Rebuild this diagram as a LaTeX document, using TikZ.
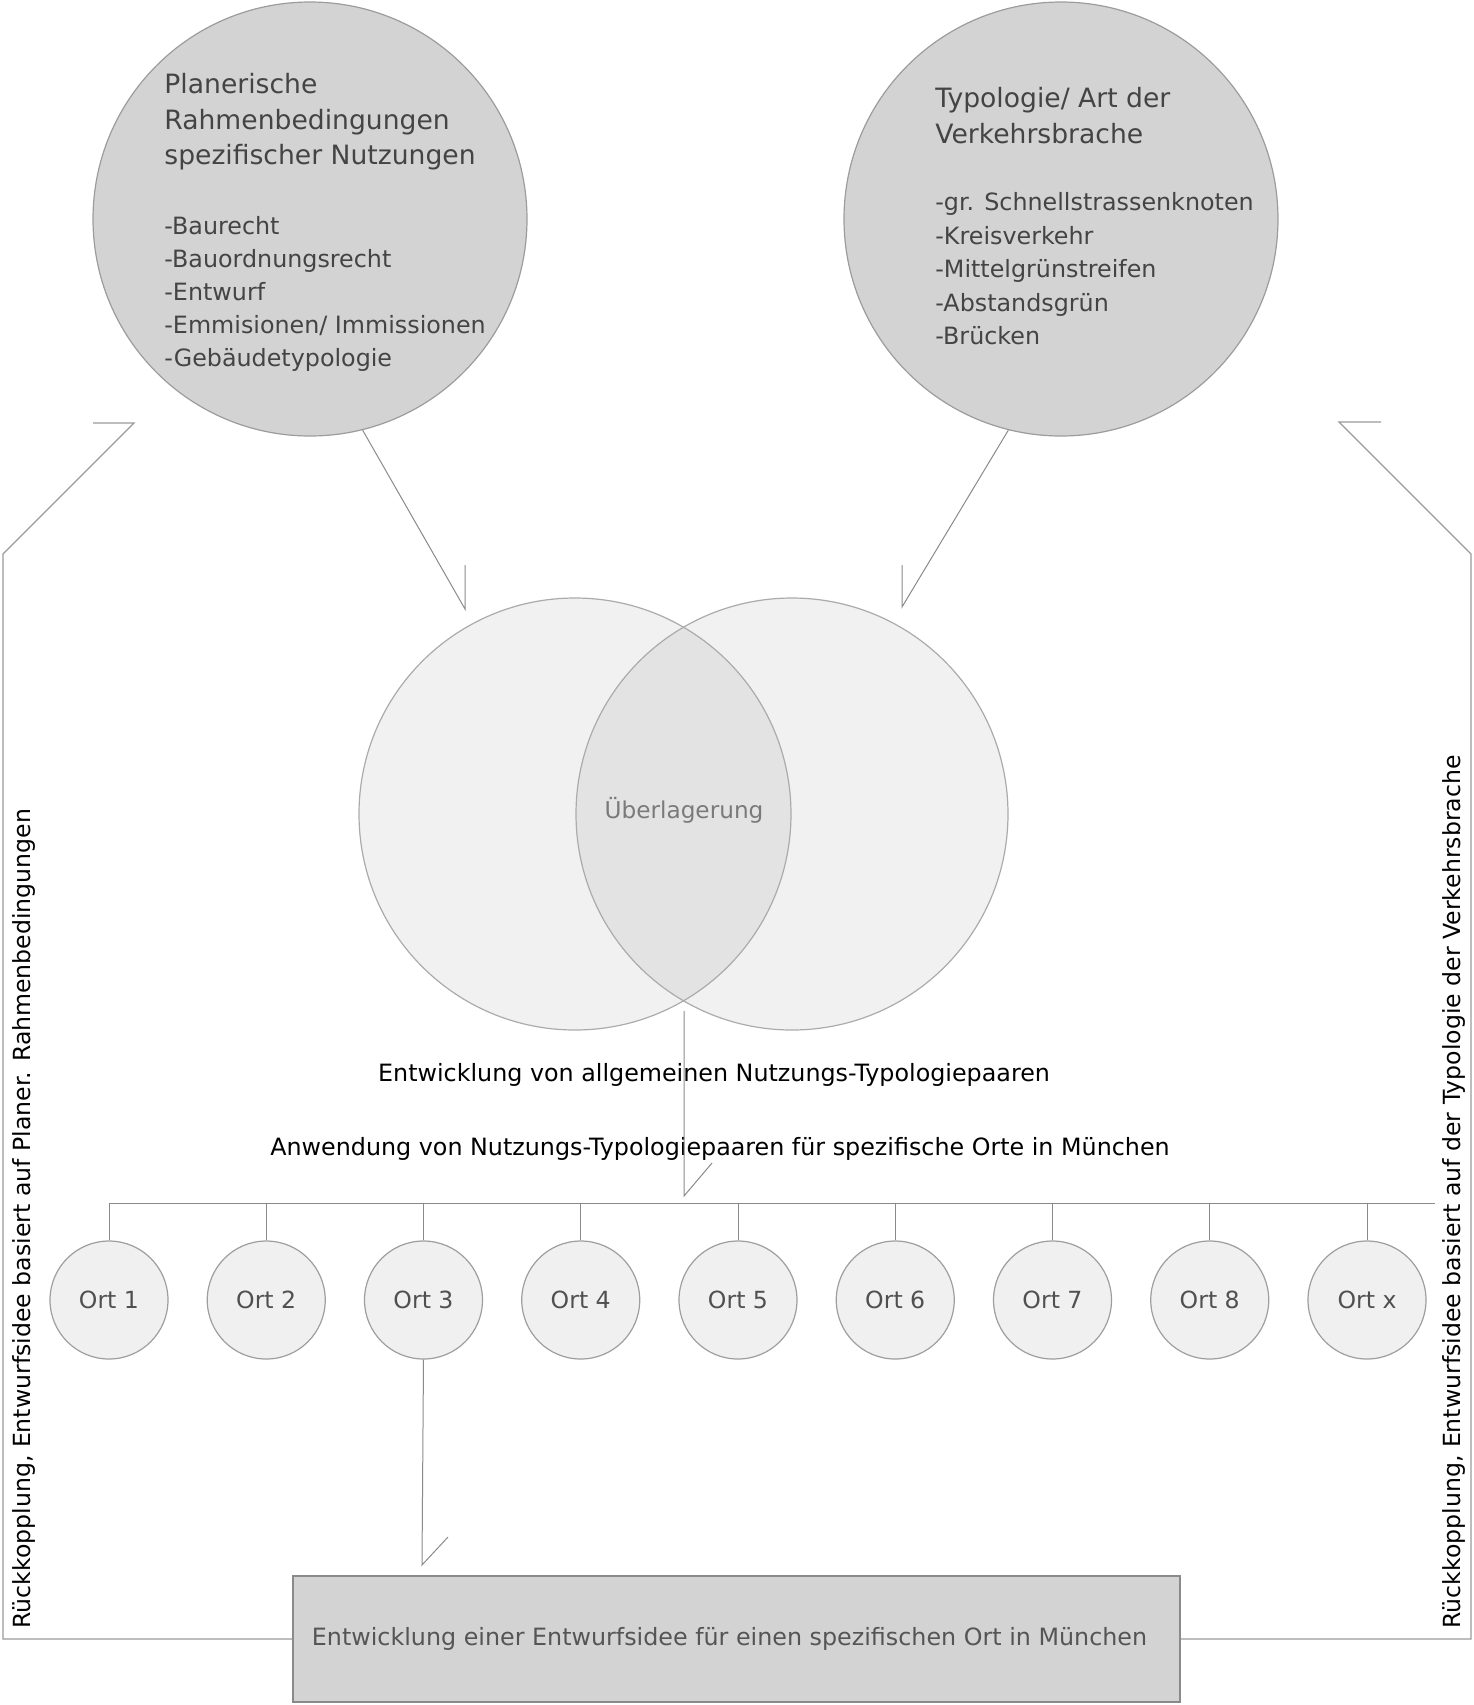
\documentclass[tikz,border=0pt]{standalone}
\usepackage{fontspec}
\setmainfont{DejaVu Sans}
\newfontfamily\rotfont{DejaVu Sans}
\definecolor{bigfill}{HTML}{D3D3D3}
\definecolor{bigline}{HTML}{9C9C9C}
\definecolor{vennfill}{HTML}{F1F1F1}
\definecolor{overlapfill}{HTML}{E3E3E3}
\definecolor{vennline}{HTML}{ABABAB}
\definecolor{ortfill}{HTML}{F0F0F0}
\definecolor{ortline}{HTML}{9E9E9E}
\definecolor{circtext}{HTML}{444444}
\definecolor{orttext}{HTML}{505050}
\definecolor{boxfill}{HTML}{D3D3D3}
\definecolor{boxline}{HTML}{8A8A8A}
\definecolor{boxtext}{HTML}{555555}
\definecolor{connline}{HTML}{8A8A8A}
\definecolor{fbline}{HTML}{9A9A9A}
\definecolor{ubertext}{HTML}{7A7A7A}
\begin{document}
\begin{tikzpicture}[x=0.5pt,y=-0.5pt,
  bigcirc/.style={circle, fill=bigfill, draw=bigline, line width=0.6pt, minimum size=217pt, inner sep=0pt},
  venncirc/.style={circle, fill=vennfill, minimum size=216pt, inner sep=0pt},
  ortcirc/.style={circle, fill=ortfill, draw=ortline, line width=0.6pt, minimum size=59pt, inner sep=0pt, text=orttext, font=\fontsize{11.8pt}{14pt}\selectfont},
  conn/.style={draw=connline, line width=0.5pt},
  fb/.style={draw=fbline, line width=0.6pt},
  head/.style={anchor=base west, inner sep=0pt, text=circtext, font=\fontsize{13.3pt}{16pt}\selectfont},
  item/.style={anchor=base west, inner sep=0pt, text=circtext, font=\fontsize{11.9pt}{14pt}\selectfont},
  midtext/.style={anchor=base, inner sep=0pt, font=\fontsize{11.9pt}{14pt}\selectfont},
  sidetext/.style={rotate=90, anchor=base west, inner sep=0pt, font=\rotfont\fontsize{11.8pt}{14pt}\selectfont},
  ideabox/.style={rectangle, fill=boxfill, draw=boxline, line width=0.6pt, minimum width=443.5pt, minimum height=63pt, inner sep=0pt, text=boxtext, font=\fontsize{11.9pt}{14pt}\selectfont}
]
\useasboundingbox (0,0) rectangle (1474,1705);

% top circles
\node[bigcirc] (c1) at (310,219) {};
\node[bigcirc] (c2) at (1061,219) {};

\node[head] (h1) at (164,93) {Planerische};
\node[head] (h2) at (164,129) {Rahmenbedingungen};
\node[head] (h3) at (164,164) {spezifischer Nutzungen};
\node[item] (l1) at (164,234) {-Baurecht};
\node[item] (l2) at (164,267) {-Bauordnungsrecht};
\node[item] (l3) at (164,300) {-Entwurf};
\node[item] (l4) at (164,333) {-Emmisionen/ Immissionen};
\node[item] (l5) at (164,366) {-Gebäudetypologie};

\node[head] (g1) at (935,107) {Typologie/ Art der};
\node[head] (g2) at (935,143) {Verkehrsbrache};
\node[item] (r1) at (935,210) {-gr. Schnellstrassenknoten};
\node[item] (r2) at (935,244) {-Kreisverkehr};
\node[item] (r3) at (935,277) {-Mittelgrünstreifen};
\node[item] (r4) at (935,311) {-Abstandsgrün};
\node[item] (r5) at (935,344) {-Brücken};

% venn
\node[venncirc] (vL) at (575,814) {};
\node[venncirc] (vR) at (792,814) {};
\begin{scope}
  \clip (vL.center) circle[radius=108pt];
  \fill[overlapfill] (vR.center) circle[radius=108pt];
\end{scope}
\draw[vennline, line width=0.6pt] (vL.center) circle[radius=108pt];
\draw[vennline, line width=0.6pt] (vR.center) circle[radius=108pt];
\node[anchor=base, inner sep=0pt, text=ubertext, font=\fontsize{11.6pt}{14pt}\selectfont] (ueb) at (684,818) {Überlagerung};

% arrows from top circles into venn
\coordinate (tA1) at (465,609);
\coordinate (bA1) at (465,565);
\coordinate (tA2) at (902,607);
\coordinate (bA2) at (902,565);
\draw[conn] (c1.-76) -- (tA1) -- (bA1);
\draw[conn] (c2.-104.7) -- (tA2) -- (bA2);

% middle texts
\node[midtext] (m1) at (714,1081) {Entwicklung von allgemeinen Nutzungs-Typologiepaaren};
\node[midtext] (m2) at (720,1155) {Anwendung von Nutzungs-Typologiepaaren für spezifische Orte in München};

% venn down arrow
\coordinate (vS) at (684,1011);
\coordinate (vT) at (684,1196);
\coordinate (vB) at (712,1163);
\draw[conn] (vS) -- (vT) -- (vB);

% bus and orts
\coordinate (busend) at (1435,1203);
\coordinate (bus0) at (109,1203);
\draw[conn] (bus0) -- (busend);
\foreach \k/\lab in {0/Ort 1,1/Ort 2,2/Ort 3,3/Ort 4,4/Ort 5,5/Ort 6,6/Ort 7,7/Ort 8,8/Ort x}{
  \coordinate (b\k) at ({109+157.25*\k},1203);
  \node[ortcirc] (o\k) at ({109+157.25*\k},1300) {\lab};
  \draw[conn] (b\k) -- (o\k.north);
}

% idea box
\node[ideabox] (idea) at (736.5,1639) {\hspace*{-7pt}Entwicklung einer Entwurfsidee für einen spezifischen Ort in München};

% Ort 3 to box
\coordinate (oT) at (422,1565);
\coordinate (oB) at (448,1537);
\draw[conn] (o2.south) -- (oT) -- (oB);

% feedback loops
\coordinate (fl1) at (3,1639);
\coordinate (fl2) at (3,554);
\coordinate (flT) at (134,423);
\coordinate (flB) at (93,423);
\draw[fb] (idea.west) -- (fl1) -- (fl2) -- (flT) -- (flB);
\coordinate (fr1) at (1471,1639);
\coordinate (fr2) at (1471,554);
\coordinate (frT) at (1339,422);
\coordinate (frB) at (1381,422);
\draw[fb] (idea.east) -- (fr1) -- (fr2) -- (frT) -- (frB);

% side texts
\node[sidetext] (sl) at (31,1629) {Rückkopplung, Entwurfsidee basiert auf Planer. Rahmenbedingungen};
\node[sidetext] (sr) at (1460,1629) {Rückkopplung, Entwurfsidee basiert auf der Typologie der Verkehrsbrache};
\end{tikzpicture}
\end{document}
